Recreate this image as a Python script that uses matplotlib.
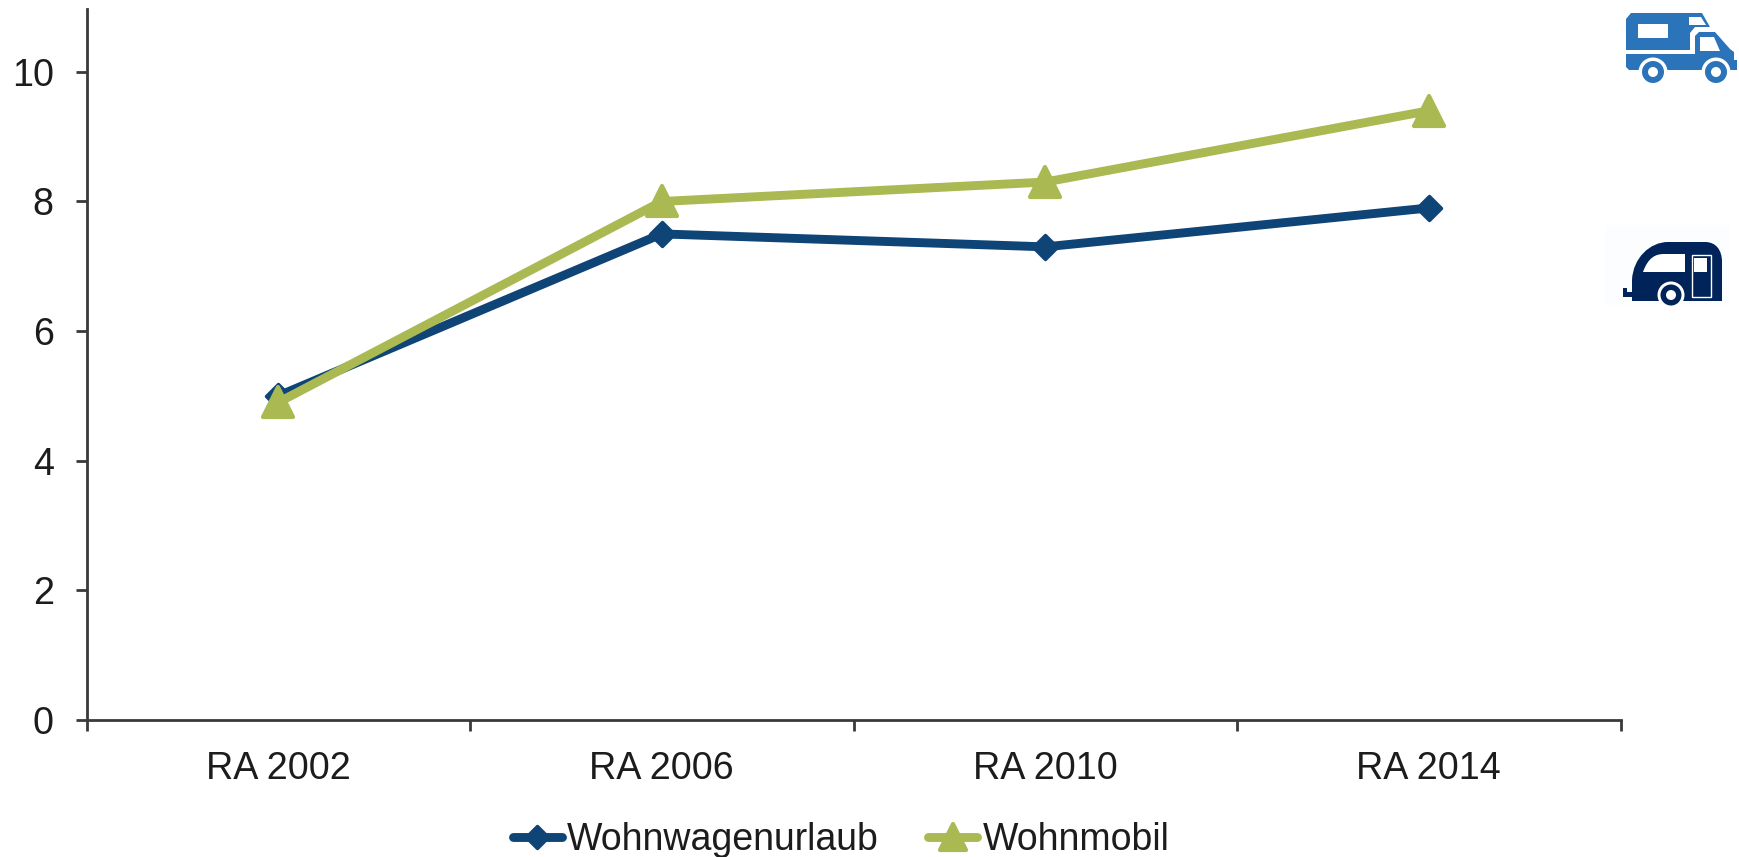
import matplotlib
matplotlib.use("Agg")
import matplotlib.pyplot as plt
from matplotlib.markers import MarkerStyle
from matplotlib.patches import Circle, PathPatch, Polygon, Rectangle
from matplotlib.path import Path

plt.rcParams["font.family"] = ["Liberation Sans", "DejaVu Sans"]

categories = ["RA 2002", "RA 2006", "RA 2010", "RA 2014"]
wohnwagen = [5.0, 7.5, 7.3, 7.9]
wohnmobil = [4.9, 8.0, 8.3, 9.4]
y_ticks = [0, 2, 4, 6, 8, 10]

BLUE = "#0F4477"
GREEN = "#ABB952"
AXIS = "#3A3A3A"
TEXT = "#1C1C1C"
TRUCK = "#2B74BA"
CARAVAN = "#00235A"
W, H = 1739, 857

fig = plt.figure(figsize=(W / 100, H / 100), dpi=100)
ax = fig.add_axes([86.5 / W, 1 - 720 / H, (1620.5 - 86.5) / W, (720 - 9) / H])

x = [i + 0.5 for i in range(len(categories))]
ax.plot(x, wohnwagen, color=BLUE, lw=6.4, solid_capstyle="round", solid_joinstyle="round",
        marker=MarkerStyle("D", joinstyle="round"), ms=12.5, mew=2.5, mec=BLUE,
        label="Wohnwagenurlaub", clip_on=False)
ax.plot(x, wohnmobil, color=GREEN, lw=6.4, solid_capstyle="round", solid_joinstyle="round",
        marker=MarkerStyle("^", joinstyle="round"), ms=21, mew=3, mec=GREEN,
        label="Wohnmobil", clip_on=False)

ax.set_xlim(0, 4)
ax.set_ylim(0, 10.97)
ax.set_yticks(y_ticks)
ax.set_xticks(range(5))
ax.set_xticklabels([])
ax.set_xticks(x, categories, minor=True)
ax.tick_params(axis="x", which="minor", length=0, pad=22, labelsize=27.2, labelcolor=TEXT)
ax.tick_params(axis="x", which="major", length=8, width=2, color=AXIS)
ax.tick_params(axis="y", length=8, width=2, color=AXIS, pad=15.5, labelsize=27.2, labelcolor=TEXT)
for side in ["top", "right"]:
    ax.spines[side].set_visible(False)
for side in ["left", "bottom"]:
    ax.spines[side].set_linewidth(2)
    ax.spines[side].set_color(AXIS)

fig.legend(loc="center", bbox_to_anchor=(841 / W, 1 - 840 / H), ncol=2, frameon=False,
           fontsize=27, labelcolor=TEXT, handlelength=1.32, handletextpad=0.14,
           columnspacing=1.3, borderpad=0, markerscale=0.9)

# icons, drawn in reference pixel coordinates
ic = fig.add_axes([0, 0, 1, 1], zorder=5)
ic.set_xlim(0, W)
ic.set_ylim(H, 0)
ic.axis("off")
ic.patch.set_alpha(0)

# motorhome
ic.add_patch(Polygon([(1626, 19), (1631, 13), (1702, 13), (1710, 27), (1695, 27), (1690, 33),
                      (1690, 50), (1626, 50)], fc=TRUCK, ec="none"))
ic.add_patch(Polygon([(1626, 54), (1695, 54), (1695, 36), (1699, 32), (1715, 32), (1730, 49),
                      (1734, 52), (1734, 60), (1737, 60), (1737, 70), (1629, 70), (1626, 67)],
                     fc=TRUCK, ec="none"))
ic.add_patch(Rectangle((1638, 24), 30, 14, fc="white", ec="none"))
ic.add_patch(Polygon([(1689, 17), (1701, 17), (1706, 25), (1689, 25)], fc="white", ec="none"))
ic.add_patch(Polygon([(1700, 37), (1714, 37), (1720, 51), (1700, 51)], fc="white", ec="none"))
for cx in [1653, 1716]:
    ic.add_patch(Circle((cx, 72), 14.5, fc="white", ec="none"))
    ic.add_patch(Circle((cx, 72), 11, fc=TRUCK, ec="none"))
    ic.add_patch(Circle((cx, 72), 5, fc="white", ec="none"))

# caravan
ic.add_patch(Rectangle((1605, 225), 124, 80, fc="#FBFDFF", ec="none"))
ic.add_patch(Polygon([(1623, 288), (1627, 288), (1627, 292), (1634, 292), (1634, 297), (1623, 297)],
                     fc=CARAVAN, ec="none"))
body = Path([(1632, 301), (1632, 280), (1633, 258), (1650, 242), (1668, 242), (1705, 242),
             (1716, 242), (1722, 250), (1722, 262), (1722, 301), (1632, 301)],
            [Path.MOVETO, Path.LINETO, Path.CURVE4, Path.CURVE4, Path.CURVE4, Path.LINETO,
             Path.CURVE4, Path.CURVE4, Path.CURVE4, Path.LINETO, Path.CLOSEPOLY])
ic.add_patch(PathPatch(body, fc=CARAVAN, ec="none"))
window = Path([(1643, 272), (1648, 258), (1655, 254), (1664, 254), (1685, 254), (1685, 272), (1643, 272)],
              [Path.MOVETO, Path.CURVE4, Path.CURVE4, Path.CURVE4, Path.LINETO, Path.LINETO, Path.CLOSEPOLY])
ic.add_patch(PathPatch(window, fc="white", ec="none"))
ic.add_patch(Rectangle((1692, 255), 19, 42, fc=CARAVAN, ec="white", lw=1))
ic.add_patch(Rectangle((1694, 258), 13, 14, fc="white", ec="none"))
ic.add_patch(Circle((1671, 295), 13.5, fc="white", ec="none"))
ic.add_patch(Circle((1671, 295), 10.5, fc=CARAVAN, ec="none"))
ic.add_patch(Circle((1671, 295), 5, fc="white", ec="none"))

fig.savefig("out.png", dpi=100)
